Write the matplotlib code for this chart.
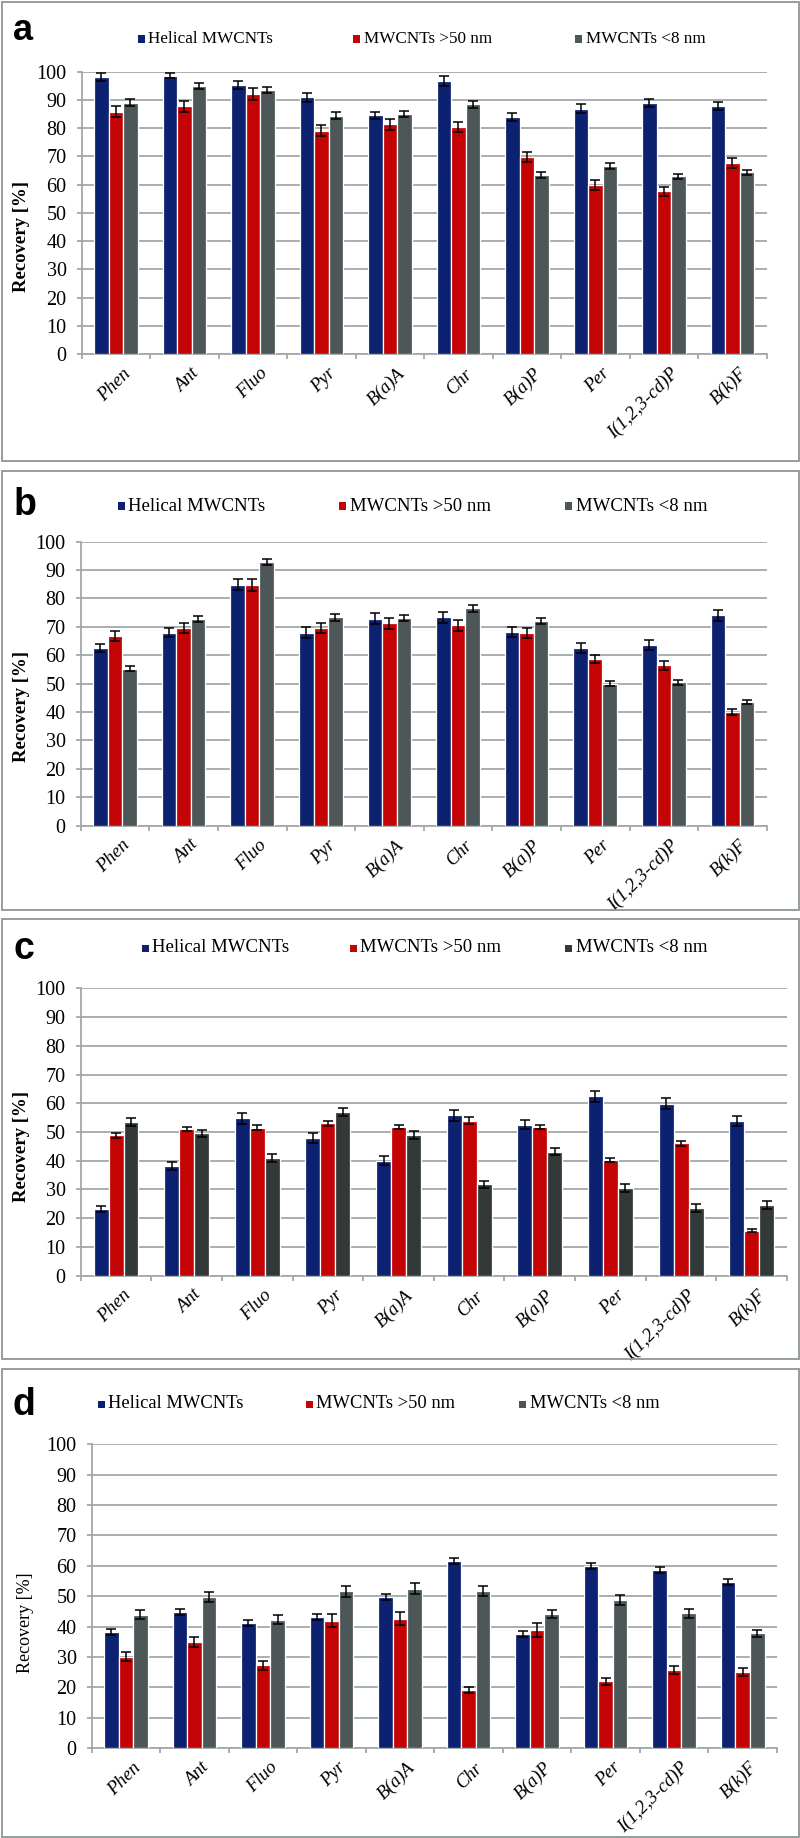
import matplotlib
matplotlib.use("Agg")
import matplotlib.pyplot as plt
import matplotlib.transforms as mtransforms
from matplotlib.patches import Rectangle
import numpy as np

# ---------------- data ----------------
categories = ["Phen", "Ant", "Fluo", "Pyr", "B(a)A", "Chr", "B(a)P", "Per", "I(1,2,3-cd)P", "B(k)F"]
series_names = ["Helical MWCNTs", "MWCNTs >50 nm", "MWCNTs <8 nm"]
yticks = [0, 10, 20, 30, 40, 50, 60, 70, 80, 90, 100]

a_helical = [98.1, 98.6, 95.2, 90.9, 84.6, 96.7, 83.9, 86.9, 88.9, 87.9]
a_gt50 = [85.9, 87.7, 92.1, 79.1, 81.4, 80.4, 69.7, 60.0, 57.6, 67.8]
a_lt8 = [89.0, 94.8, 93.6, 84.4, 85.0, 88.4, 63.5, 66.7, 62.9, 64.3]
a_helical_err = [1.4, 1.0, 1.5, 1.5, 1.3, 1.8, 1.4, 1.5, 1.5, 1.5]
a_gt50_err = [2.0, 1.9, 2.1, 1.9, 2.0, 1.8, 1.8, 1.8, 1.5, 1.8]
a_lt8_err = [1.3, 1.1, 1.1, 1.2, 1.2, 1.3, 1.1, 1.1, 1.0, 1.0]

b_helical = [62.6, 67.9, 84.9, 67.9, 72.9, 73.4, 68.2, 62.6, 63.6, 74.1]
b_gt50 = [66.7, 69.6, 84.7, 69.6, 71.3, 70.6, 67.8, 58.6, 56.4, 40.1]
b_lt8 = [55.3, 72.7, 92.8, 73.3, 73.1, 76.5, 72.0, 50.0, 50.4, 43.5]
b_helical_err = [1.5, 1.6, 1.9, 1.9, 1.9, 1.9, 1.9, 1.8, 1.8, 1.9]
b_gt50_err = [1.8, 1.8, 2.0, 1.9, 1.9, 1.9, 1.9, 1.5, 1.6, 1.0]
b_lt8_err = [0.9, 1.1, 1.1, 1.1, 1.1, 1.1, 1.1, 0.9, 0.9, 0.8]

c_helical = [23.2, 38.1, 54.8, 48.0, 40.0, 55.9, 52.6, 62.4, 59.9, 53.9]
c_gt50 = [48.9, 51.1, 51.5, 53.0, 51.8, 54.0, 51.7, 40.2, 46.1, 15.7]
c_lt8 = [53.5, 49.5, 41.0, 57.1, 49.1, 31.8, 43.2, 30.4, 23.5, 24.6]
c_helical_err = [1.0, 1.3, 1.9, 1.7, 1.6, 1.9, 1.7, 2.0, 1.8, 1.8]
c_gt50_err = [0.9, 0.8, 0.9, 1.0, 0.8, 1.1, 0.8, 0.7, 0.8, 0.4]
c_lt8_err = [1.5, 1.3, 1.4, 1.4, 1.4, 1.3, 1.3, 1.4, 1.5, 1.4]

d_helical = [38.2, 44.8, 41.1, 43.0, 49.7, 61.7, 37.5, 59.9, 58.7, 54.7]
d_gt50 = [30.1, 34.9, 27.2, 41.9, 42.6, 19.1, 38.9, 22.0, 25.7, 24.9]
d_lt8 = [43.9, 49.8, 42.3, 51.6, 52.5, 51.7, 44.1, 48.7, 44.3, 37.8]
d_helical_err = [1.1, 1.0, 1.0, 1.0, 1.0, 1.0, 1.0, 1.0, 1.0, 1.0]
d_gt50_err = [1.6, 1.8, 1.5, 2.2, 2.2, 1.0, 2.2, 1.2, 1.4, 1.3]
d_lt8_err = [1.5, 1.6, 1.5, 1.8, 1.8, 1.7, 1.4, 1.6, 1.4, 1.2]

# ---------------- styling / layout ----------------
W, H = 800, 1838
BLUE = "#0d2171"
RED = "#c40404"
GRAY = "#4d5757"
DARKGRAY = "#333939"
GRID = "#a2a8a8"
BORDER = "#8d9595"
SERIF = ["Liberation Serif", "DejaVu Serif"]
SANS = ["Liberation Sans", "DejaVu Sans"]

fig = plt.figure(figsize=(W / 100, H / 100), dpi=100)


def fx(px):
    return px / W


def fy(py):
    return 1 - py / H


panels = [
    dict(letter="a", data=(a_helical, a_gt50, a_lt8), err=(a_helical_err, a_gt50_err, a_lt8_err),
         box=(81.7, 766.7, 71.7, 354.0), frame=(1.5, 798.5, 1.7, 461.0),
         colors=(BLUE, RED, GRAY), letter_pos=(23, 30), letter_size=26,
         legend_y=39, legend_x=(141, 356, 578), legend_size=12.3,
         ylabel_pos=(22, 236), ylabel_bold=True, ylabel_size=13.5),
    dict(letter="b", data=(b_helical, b_gt50, b_lt8), err=(b_helical_err, b_gt50_err, b_lt8_err),
         box=(80.7, 766.7, 541.7, 825.5), frame=(1.5, 798.5, 470.7, 910.0),
         colors=(BLUE, RED, GRAY), letter_pos=(24.5, 505), letter_size=27,
         legend_y=506, legend_x=(121, 342, 568), legend_size=13.5,
         ylabel_pos=(22, 707), ylabel_bold=True, ylabel_size=13.5),
    dict(letter="c", data=(c_helical, c_gt50, c_lt8), err=(c_helical_err, c_gt50_err, c_lt8_err),
         box=(80.7, 787.0, 988.3, 1275.7), frame=(1.5, 798.5, 919.0, 1359.0),
         colors=(BLUE, RED, DARKGRAY), letter_pos=(24, 949), letter_size=27,
         legend_y=948, legend_x=(145, 353, 568), legend_size=13.5,
         ylabel_pos=(22, 1146), ylabel_bold=True, ylabel_size=13.5),
    dict(letter="d", data=(d_helical, d_gt50, d_lt8), err=(d_helical_err, d_gt50_err, d_lt8_err),
         box=(91.7, 777.0, 1444.3, 1748.0), frame=(1.5, 798.5, 1369.0, 1837.0),
         colors=(BLUE, RED, GRAY), letter_pos=(24, 1405), letter_size=27,
         legend_y=1404, legend_x=(101, 309, 522), legend_size=13.3,
         ylabel_pos=(25, 1623), ylabel_bold=False, ylabel_size=13),
]

n = len(categories)
x = np.arange(n) + 0.5
bw = 0.212
offsets = (-bw, 0.0, bw)

for p in panels:
    L, R, T, B = p["box"]
    ax = fig.add_axes([fx(L), fy(B), fx(R) - fx(L), (B - T) / H])
    for vals, errs, off, col in zip(p["data"], p["err"], offsets, p["colors"]):
        ax.bar(x + off, vals, width=bw, color=col, edgecolor="white", linewidth=0.9, zorder=3)
        ax.errorbar(x + off, vals, yerr=errs, fmt="none", ecolor="black",
                    elinewidth=1.1, capsize=3.3, capthick=1.1, zorder=4)
    ax.set_xlim(0, n)
    ax.set_ylim(0, 100)
    ax.set_yticks(yticks)
    ax.set_yticklabels([str(t) for t in yticks], fontfamily=SERIF, fontsize=14.5)
    ax.yaxis.grid(True, color=GRID, linewidth=1.3, zorder=0)
    ax.set_axisbelow(True)
    for s in ("top", "right"):
        ax.spines[s].set_visible(False)
    for s in ("left", "bottom"):
        ax.spines[s].set_color(GRID)
        ax.spines[s].set_linewidth(1.3)
    ax.tick_params(axis="y", direction="out", length=3.8, width=1.3, color=GRID, pad=7)
    ax.set_xticks(x)
    ax.set_xticks(np.arange(n + 1), minor=True)
    ax.tick_params(axis="x", which="major", length=0, pad=8)
    ax.tick_params(axis="x", which="minor", direction="out", length=3.8, width=1.3, color=GRID)
    ax.set_xticklabels(categories, rotation=45, ha="right", rotation_mode="anchor",
                       fontfamily=SERIF, fontstyle="italic", fontsize=13.5)
    shift = mtransforms.ScaledTranslation(6 / 100, 0, fig.dpi_scale_trans)
    for lab in ax.get_xticklabels():
        lab.set_transform(lab.get_transform() + shift)

    # y label
    yl_x, yl_y = p["ylabel_pos"]
    fig.text(fx(yl_x), fy(yl_y), "Recovery [%]", rotation=90, ha="center", va="center",
             fontfamily=SERIF, fontsize=p["ylabel_size"],
             fontweight="bold" if p["ylabel_bold"] else "normal")

    # panel letter
    lx, ly = p["letter_pos"]
    fig.text(fx(lx), fy(ly), p["letter"], ha="center", va="center",
             fontfamily=SANS, fontweight="bold", fontsize=p["letter_size"])

    # legend (manual, Excel-like)
    for name, col, mx in zip(series_names, p["colors"], p["legend_x"]):
        sq = 7
        fig.add_artist(Rectangle((fx(mx - sq / 2), fy(p["legend_y"] + sq / 2)), sq / W, sq / H,
                                 transform=fig.transFigure, facecolor=col, edgecolor="none"))
        fig.text(fx(mx + 7.5), fy(p["legend_y"]), name, ha="left", va="center",
                 fontfamily=SERIF, fontsize=p["legend_size"])

    # panel frame
    x0, x1, y0, y1 = p["frame"]
    fig.add_artist(Rectangle((fx(x0), fy(y1)), fx(x1) - fx(x0), (y1 - y0) / H,
                             transform=fig.transFigure, fill=False, edgecolor=BORDER, linewidth=1.3))

fig.savefig("out.png", dpi=100, facecolor="white")
